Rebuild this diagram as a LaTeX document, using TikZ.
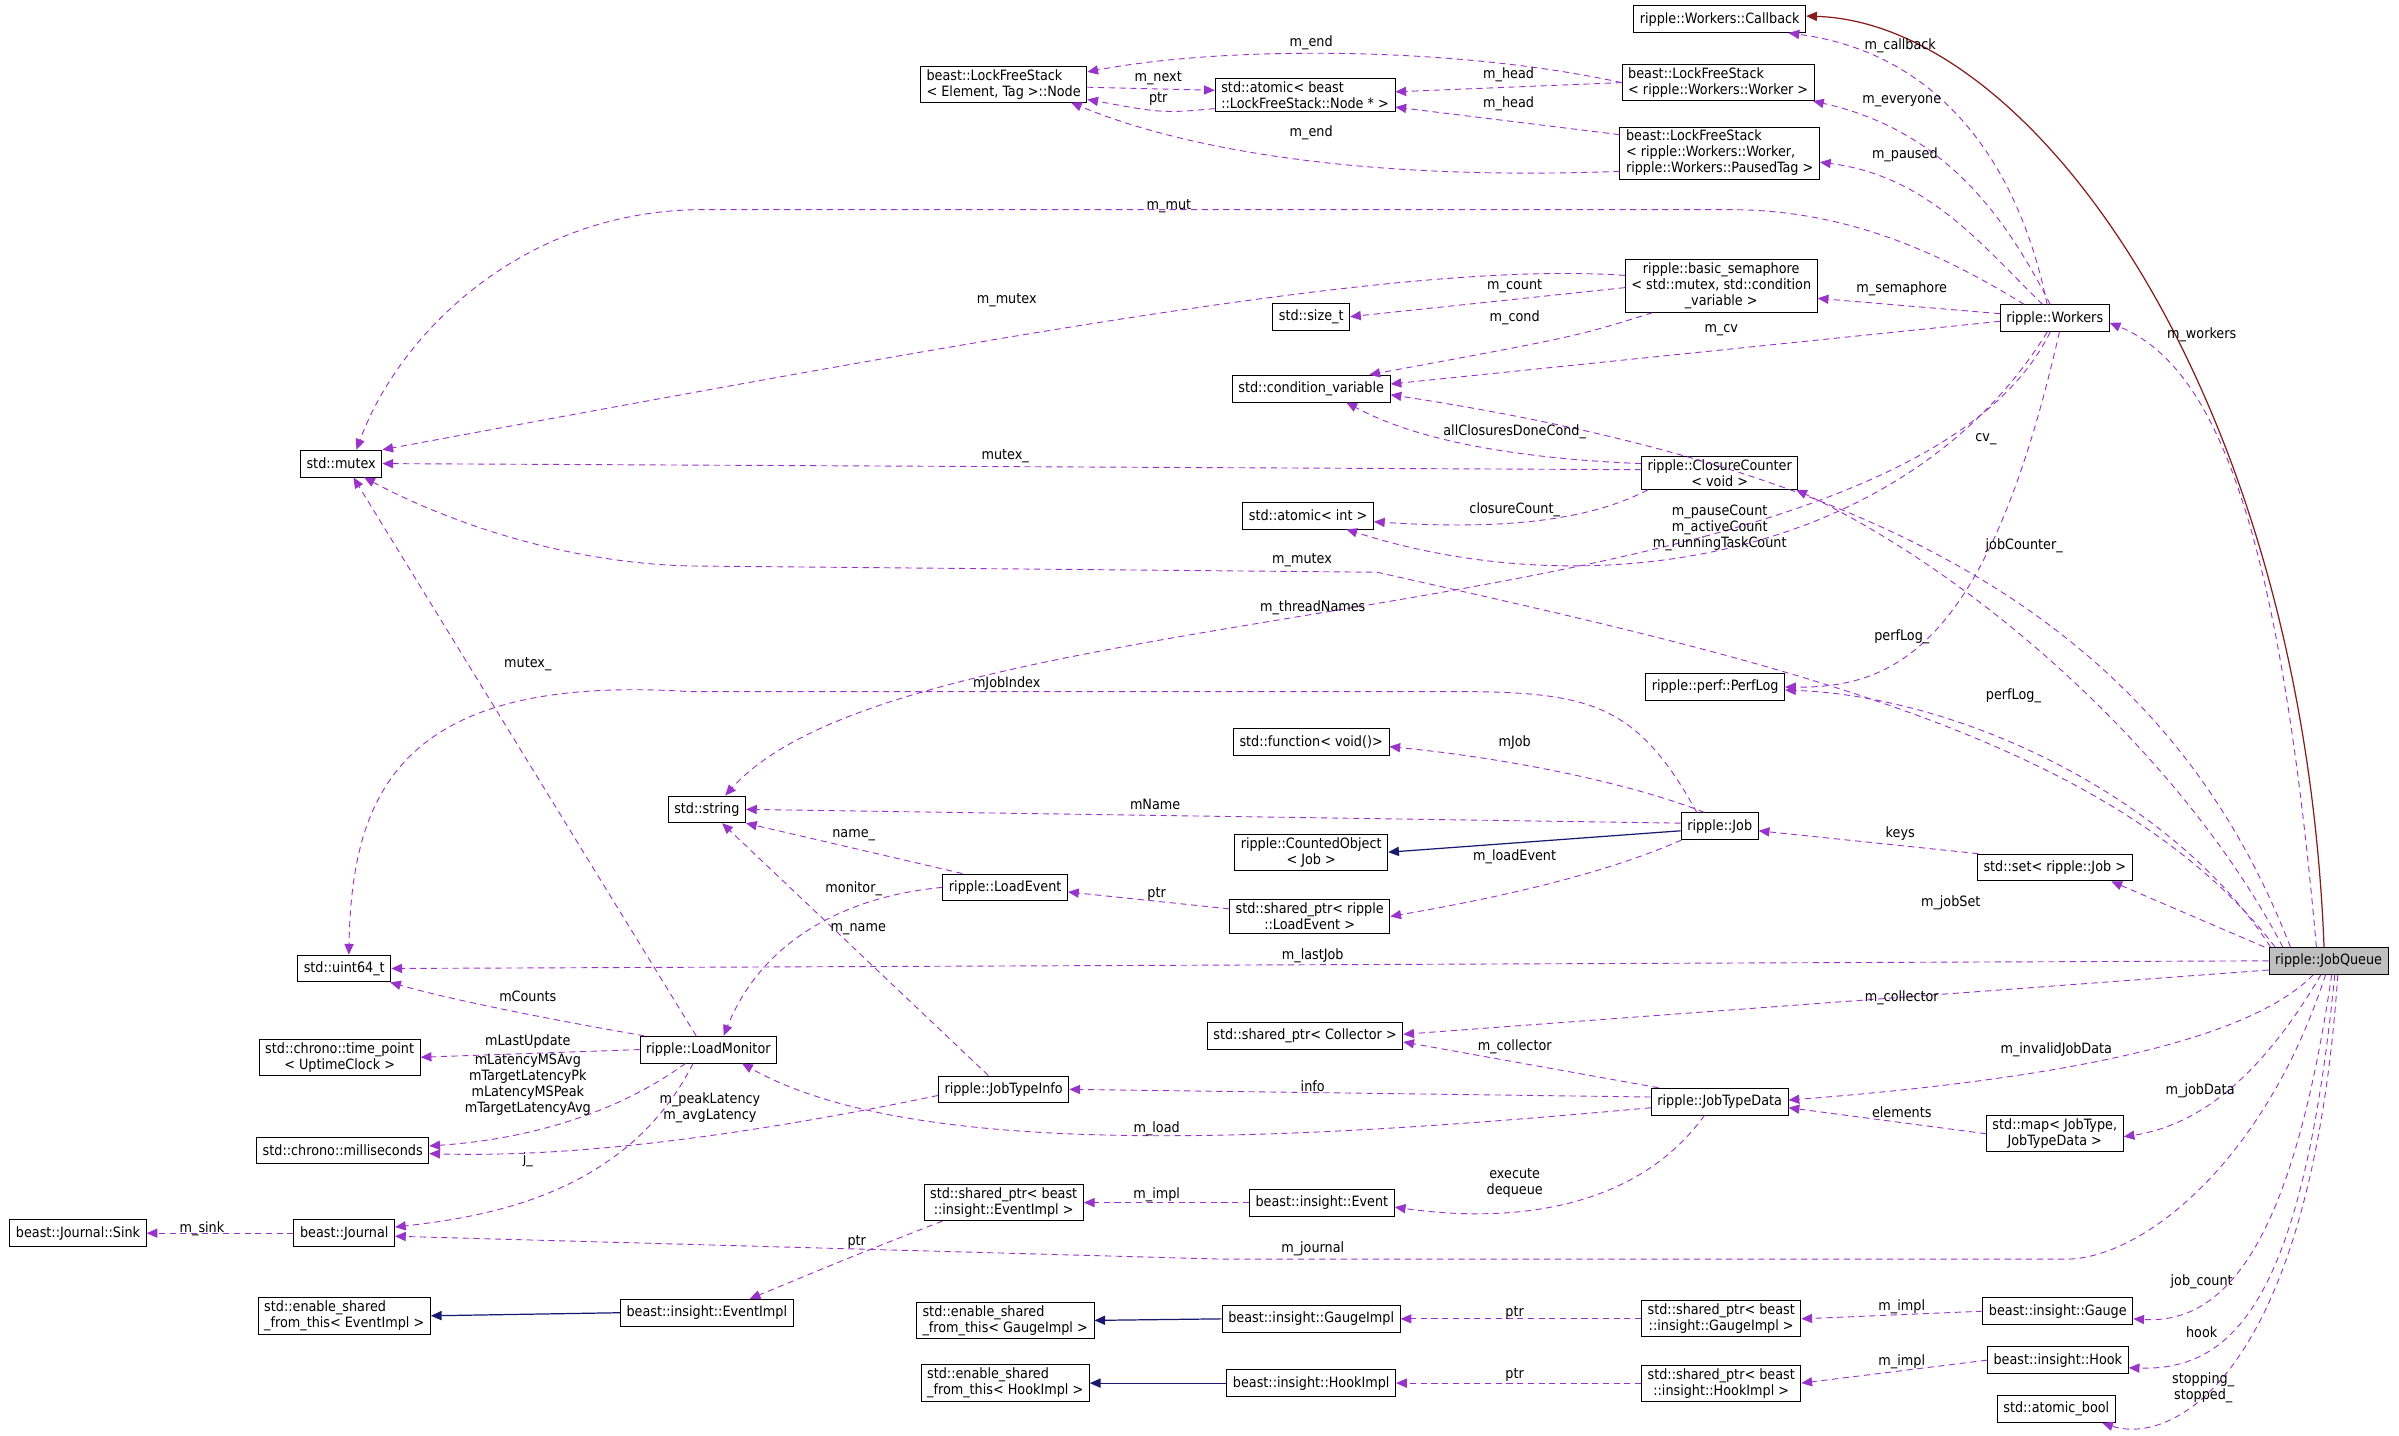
\documentclass[tikz,border=0pt]{standalone}
\usepackage{fontspec}
\setmainfont{DejaVu Sans Condensed}
\usetikzlibrary{arrows.meta}
\definecolor{dep}{HTML}{9A32CD}
\definecolor{inh}{HTML}{191970}
\definecolor{cbred}{HTML}{8B1A1A}
\begin{document}
\begin{tikzpicture}[x=1pt,y=-1pt,
  box/.style={draw=black,fill=white,inner xsep=4pt,inner ysep=2pt,font=\fontsize{9.3}{10.5}\selectfont,align=center,minimum height=17.5pt,line width=0.6pt},
  lbox/.style={box,align=left},
  lbl/.style={font=\fontsize{9.3}{10.5}\selectfont,inner sep=0pt,align=center},
  depe/.style={draw=dep,dashed,dash pattern=on 4pt off 3pt,line width=0.6pt,-{Triangle[length=7pt,width=6pt]}},
  inhe/.style={draw=inh,line width=0.8pt,-{Triangle[length=7pt,width=6pt]}},
  cbe/.style={draw=cbred,line width=0.8pt,-{Triangle[length=7pt,width=6pt]}}]
\useasboundingbox[fill=white] (0,0) rectangle (1568,938);
% nodes
\node[box] (callback) at (1124,12.5) {ripple::Workers::Callback};
\node[lbox] (lfsnode) at (656,55) {beast::LockFreeStack\\< Element, Tag >::Node};
\node[lbox] (atomicN) at (853,62) {std::atomic< beast\\::LockFreeStack::Node * >};
\node[lbox] (lfsw) at (1123,54) {beast::LockFreeStack\\< ripple::Workers::Worker >};
\node[lbox] (lfsp) at (1124,100) {beast::LockFreeStack\\< ripple::Workers::Worker,\\ ripple::Workers::PausedTag >};
\node[box] (sem) at (1125,187) {ripple::basic\_semaphore\\< std::mutex, std::condition\\\_variable >};
\node[box] (sizet) at (857,207) {std::size\_t};
\node[box] (workers) at (1343,208) {ripple::Workers};
\node[box] (condvar) at (857,254) {std::condition\_variable};
\node[box] (mutex) at (223,303) {std::mutex};
\node[box] (cc) at (1124,309) {ripple::ClosureCounter\\< void >};
\node[box] (aint) at (855,337) {std::atomic< int >};
\node[box] (perflog) at (1121,449) {ripple::perf::PerfLog};
\node[box] (func) at (857,485) {std::function< void()>};
\node[box] (string) at (462,529) {std::string};
\node[box] (job) at (1124,540) {ripple::Job};
\node[box] (counted) at (857,557) {ripple::CountedObject\\< Job >};
\node[box] (le) at (657,580) {ripple::LoadEvent};
\node[box] (sle) at (856,599) {std::shared\_ptr< ripple\\::LoadEvent >};
\node[box] (set) at (1343,567) {std::set< ripple::Job >};
\node[box] (uint64) at (225,633) {std::uint64\_t};
\node[box,fill=black!25] (jq) at (1522,628) {ripple::JobQueue};
\node[box] (coll) at (853,677) {std::shared\_ptr< Collector >};
\node[box] (tp) at (222,691) {std::chrono::time\_point\\< UptimeClock >};
\node[box] (lm) at (463,686) {ripple::LoadMonitor};
\node[box] (jti) at (656,712) {ripple::JobTypeInfo};
\node[box] (jtd) at (1124,720) {ripple::JobTypeData};
\node[box] (ms) at (224,752) {std::chrono::milliseconds};
\node[box] (map) at (1343,741) {std::map< JobType,\\JobTypeData >};
\node[box] (sei) at (656,786) {std::shared\_ptr< beast\\::insight::EventImpl >};
\node[box] (event) at (864,786) {beast::insight::Event};
\node[box] (sink) at (51,806) {beast::Journal::Sink};
\node[box] (journal) at (225,806) {beast::Journal};
\node[lbox] (esE) at (225,860) {std::enable\_shared\\\_from\_this< EventImpl >};
\node[box] (eimpl) at (462,858) {beast::insight::EventImpl};
\node[lbox] (esG) at (657,863) {std::enable\_shared\\\_from\_this< GaugeImpl >};
\node[box] (gimpl) at (857,862) {beast::insight::GaugeImpl};
\node[box] (sgi) at (1125,862) {std::shared\_ptr< beast\\::insight::GaugeImpl >};
\node[box] (gauge) at (1345,857) {beast::insight::Gauge};
\node[lbox] (esH) at (657,904) {std::enable\_shared\\\_from\_this< HookImpl >};
\node[box] (himpl) at (857,904) {beast::insight::HookImpl};
\node[box] (shi) at (1125,904) {std::shared\_ptr< beast\\::insight::HookImpl >};
\node[box] (hook) at (1345,889) {beast::insight::Hook};
\node[box] (abool) at (1344,921) {std::atomic\_bool};
% edges top
\draw[depe] (lfsw.west) .. controls (950,30) and (800,30) .. ([yshift=8]lfsnode.east);
\draw[depe] (lfsw.west) -- ([yshift=2]atomicN.east);
\draw[depe] ([yshift=12]lfsp.west) -- ([yshift=-8]atomicN.east);
\draw[depe] ([yshift=-12]lfsp.west) .. controls (900,118) and (780,100) .. ([xshift=44]lfsnode.south);
\draw[depe] ([yshift=-2]lfsnode.east) -- ([yshift=3]atomicN.west);
\draw[depe] ([yshift=-9]atomicN.west) .. controls (760,74) .. ([yshift=-10]lfsnode.east);
\draw[depe] ([xshift=-5]workers.north) .. controls (1320,110) and (1270,35) .. ([xshift=45]callback.south);
\draw[depe] ([xshift=-3]workers.north) .. controls (1310,140) and (1270,85) .. ([xshift=62]lfsw.south);
\draw[depe] ([xshift=-8]workers.north) .. controls (1295,160) and (1260,115) .. ([yshift=-6]lfsp.east);
\draw[depe] ([xshift=-20]workers.north) .. controls (1260,160) and (1200,137) .. (1130,137) -- (460,137) .. controls (340,137) and (260,220) .. ([xshift=10]mutex.north);
\draw[depe] ([yshift=3]workers.west) -- ([yshift=-8]sem.east);
\draw[depe] ([yshift=-2]workers.west) -- ([yshift=3]condvar.east);
\draw[depe] ([yshift=7]sem.west) .. controls (920,170) and (650,220) .. (mutex.north east);
\draw[depe] ([yshift=-1]sem.west) -- (sizet.east);
\draw[depe] ([xshift=-45]sem.south) .. controls (1030,220) .. ([xshift=38]condvar.north);
\draw[depe] ([yshift=6]cc.west) .. controls (1000,300) and (930,290) .. ([xshift=23]condvar.south);
\draw[depe] ([yshift=2]cc.west) -- (mutex.east);
\draw[depe] ([xshift=-47]cc.south) .. controls (1030,345) and (960,345) .. ([yshift=-4]aint.east);
\draw[depe] ([xshift=-5]workers.south) .. controls (1250,360) and (1050,400) .. ([xshift=25]aint.south);
\draw[depe] ([xshift=-3]workers.south) .. controls (1240,420) and (600,380) .. ([xshift=12]string.north);
\draw[depe] ([xshift=3]workers.south) .. controls (1300,420) and (1240,450) .. (perflog.east);
% JobQueue edges
\draw[cbe] ([xshift=-3]jq.north) .. controls (1505,260) and (1330,15) .. ([yshift=2]callback.east);
\draw[depe] ([xshift=-8]jq.north) .. controls (1490,350) and (1450,240) .. ([yshift=-3]workers.east);
\draw[depe] ([xshift=-25]jq.north) .. controls (1420,420) and (1250,310) .. ([yshift=-4]condvar.east);
\draw[depe] ([xshift=-30]jq.north) .. controls (1430,500) and (1300,380) .. ([xshift=50]cc.south);
\draw[depe] ([xshift=-35]jq.north) .. controls (1380,480) and (1150,430) .. (900,374) -- (460,370) .. controls (380,370) and (300,345) .. ([xshift=15]mutex.south);
\draw[depe] ([xshift=-38]jq.north) .. controls (1420,520) and (1280,455) .. ([yshift=-2]perflog.east);
\draw[depe] ([xshift=-42]jq.north) -- ([xshift=37]set.south);
\draw[depe] (jq.west) -- (uint64.east);
\draw[depe] ([yshift=-6]jq.west) -- ([yshift=1]coll.east);
\draw[depe] ([xshift=-10]jq.south) .. controls (1470,680) and (1350,705) .. ([yshift=1]jtd.east);
\draw[depe] ([xshift=-5]jq.south) .. controls (1480,700) and (1440,735) .. ([yshift=-2]map.east);
\draw[depe] ([xshift=-2]jq.south) .. controls (1480,760) and (1400,823) .. (1350,823) -- (800,823) -- ([yshift=-2]journal.east);
\draw[depe] ([xshift=2]jq.south) .. controls (1500,800) and (1460,866) .. ([yshift=-5]gauge.east);
\draw[depe] ([xshift=4]jq.south) .. controls (1505,850) and (1460,896) .. ([yshift=-5]hook.east);
\draw[depe] ([xshift=6]jq.south) .. controls (1510,900) and (1420,945) .. ([xshift=30]abool.south);
% Job area
\draw[depe] ([xshift=-10]job.north) .. controls (1060,510) and (980,495) .. ([yshift=-3]func.east);
\draw[depe] ([yshift=2]job.west) -- (string.east);
\draw[inhe] ([yshift=-3]job.west) -- (counted.east);
\draw[depe] ([xshift=-25]job.south) .. controls (1040,575) and (960,590) .. (sle.east);
\draw[depe] ([xshift=-15]job.north) .. controls (1070,460) and (1040,452) .. (950,452) -- (450,452) .. controls (260,440) and (230,520) .. ([xshift=3]uint64.north);
\draw[depe] ([xshift=-50]set.north) -- ([yshift=-3]job.east);
\draw[depe] ([yshift=5]sle.west) -- ([yshift=-3]le.east);
\draw[depe] ([xshift=-28]le.north) -- (string.south east);
\draw[depe] (le.west) .. controls (560,585) and (500,610) .. ([xshift=10]lm.north);
\draw[depe] ([xshift=-10]jti.north) -- ([xshift=10]string.south);
\draw[depe] ([xshift=-42]lm.north) .. controls (380,670) and (300,655) .. ([xshift=30]uint64.south);
\draw[depe] ([xshift=-8]lm.north) -- ([xshift=8]mutex.south);
\draw[depe] (lm.west) -- (tp.east);
\draw[depe] ([xshift=-15]lm.south) .. controls (400,730) and (340,745) .. ([yshift=3]ms.east);
\draw[depe] ([xshift=-10]lm.south) .. controls (410,780) and (320,795) .. ([yshift=4]journal.east);
\draw[depe] ([yshift=-4]jti.west) .. controls (450,750) and (350,756) .. ([yshift=-2]ms.east);
\draw[depe] ([yshift=-4]jtd.west) .. controls (850,745) and (600,760) .. ([xshift=22]lm.south);
\draw[depe] ([yshift=3]jtd.west) -- (jti.east);
\draw[depe] ([xshift=-40]jtd.north) -- ([yshift=-4]coll.east);
\draw[depe] (map.west) -- ([yshift=-4]jtd.east);
\draw[depe] ([xshift=-10]jtd.south) .. controls (1070,790) and (990,800) .. ([yshift=-3]event.east);
\draw[depe] (event.west) -- (sei.east);
\draw[depe] ([xshift=-40]sei.south) .. controls (560,820) .. ([xshift=28]eimpl.north);
\draw[inhe] (eimpl.west) -- (esE.east);
\draw[depe] (journal.west) -- (sink.east);
\draw[inhe] (gimpl.west) -- (esG.east);
\draw[depe] (sgi.west) -- (gimpl.east);
\draw[depe] (gauge.west) -- (sgi.east);
\draw[inhe] (himpl.west) -- (esH.east);
\draw[depe] (shi.west) -- (himpl.east);
\draw[depe] (hook.west) -- (shi.east);
% labels
\node[lbl] (l1) at (857,28) {m\_end};
\node[lbl] (l2) at (857,87) {m\_end};
\node[lbl] (l3) at (757,51) {m\_next};
\node[lbl] (l4) at (757,65) {ptr};
\node[lbl] (l5) at (986,49) {m\_head};
\node[lbl] (l6) at (986,68) {m\_head};
\node[lbl] (l7) at (1242,30) {m\_callback};
\node[lbl] (l8) at (1243,66) {m\_everyone};
\node[lbl] (l9) at (1245,101) {m\_paused};
\node[lbl] (l10) at (764,135) {m\_mut};
\node[lbl] (l11) at (658,196) {m\_mutex};
\node[lbl] (l12) at (990,187) {m\_count};
\node[lbl] (l13) at (990,208) {m\_cond};
\node[lbl] (l14) at (1243,189) {m\_semaphore};
\node[lbl] (l15) at (1125,216) {m\_cv};
\node[lbl] (l16) at (990,282) {allClosuresDoneCond\_};
\node[lbl] (l17) at (657,298) {mutex\_};
\node[lbl] (l18) at (990,333) {closureCount\_};
\node[lbl] (l19) at (1124,345) {m\_pauseCount\\m\_activeCount\\m\_runningTaskCount};
\node[lbl] (l20) at (1439,219) {m\_workers};
\node[lbl] (l21) at (1298,287) {cv\_};
\node[lbl] (l22) at (1323,357) {jobCounter\_};
\node[lbl] (l23) at (851,366) {m\_mutex};
\node[lbl] (l24) at (858,397) {m\_threadNames};
\node[lbl] (l25) at (1243,416) {perfLog\_};
\node[lbl] (l26) at (1316,455) {perfLog\_};
\node[lbl] (l27) at (345,434) {mutex\_};
\node[lbl] (l28) at (658,447) {mJobIndex};
\node[lbl] (l29) at (990,485) {mJob};
\node[lbl] (l30) at (755,526) {mName};
\node[lbl] (l31) at (1242,545) {keys};
\node[lbl] (l32) at (558,546) {name\_};
\node[lbl] (l33) at (990,560) {m\_loadEvent};
\node[lbl] (l34) at (558,581) {monitor\_};
\node[lbl] (l35) at (756,584) {ptr};
\node[lbl] (l36) at (1275,590) {m\_jobSet};
\node[lbl] (l37) at (561,607) {m\_name};
\node[lbl] (l38) at (858,625) {m\_lastJob};
\node[lbl] (l39) at (345,651) {mCounts};
\node[lbl] (l40) at (1243,652) {m\_collector};
\node[lbl] (l41) at (345,681) {mLastUpdate};
\node[lbl] (l42) at (990,684) {m\_collector};
\node[lbl] (l43) at (1344,686) {m\_invalidJobData};
\node[lbl] (l44) at (345,709) {mLatencyMSAvg\\mTargetLatencyPk\\mLatencyMSPeak\\mTargetLatencyAvg};
\node[lbl] (l45) at (464,724) {m\_peakLatency\\m\_avgLatency};
\node[lbl] (l46) at (858,710) {info};
\node[lbl] (l47) at (1438,713) {m\_jobData};
\node[lbl] (l48) at (1243,727) {elements};
\node[lbl] (l49) at (756,738) {m\_load};
\node[lbl] (l50) at (345,758) {j\_};
\node[lbl] (l51) at (990,773) {execute\\dequeue};
\node[lbl] (l52) at (756,781) {m\_impl};
\node[lbl] (l53) at (132,803) {m\_sink};
\node[lbl] (l54) at (560,812) {ptr};
\node[lbl] (l55) at (858,816) {m\_journal};
\node[lbl] (l56) at (1439,838) {job\_count};
\node[lbl] (l57) at (1243,854) {m\_impl};
\node[lbl] (l58) at (990,858) {ptr};
\node[lbl] (l59) at (1439,871) {hook};
\node[lbl] (l60) at (1243,890) {m\_impl};
\node[lbl] (l61) at (990,899) {ptr};
\node[lbl] (l62) at (1440,907) {stopping\_\\stopped\_};
\end{tikzpicture}
\end{document}
